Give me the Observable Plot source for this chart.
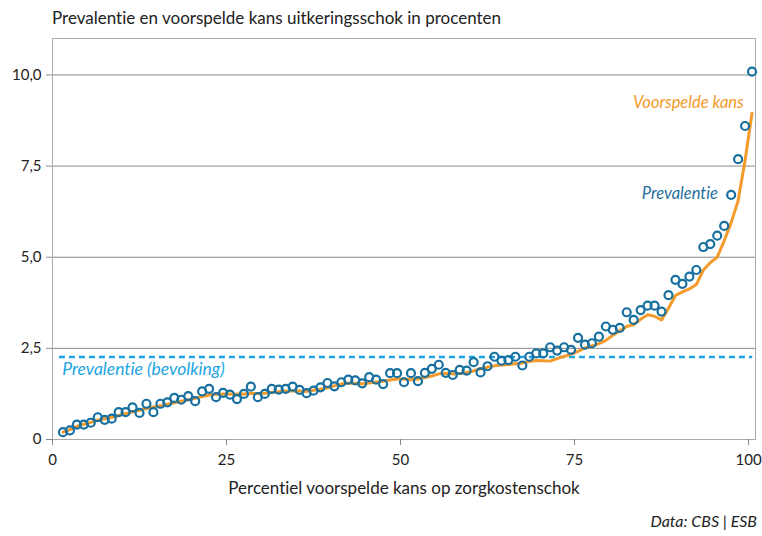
<!DOCTYPE html>
<html><head><meta charset="utf-8">
<script src="https://cdn.jsdelivr.net/npm/d3@7"></script>
<script src="https://cdn.jsdelivr.net/npm/@observablehq/plot@0.6"></script>
<style>
body{margin:0;background:#fff;font-family:Lato,"Open Sans",sans-serif;font-variant-ligatures:none;}
#title{height:22px;padding-top:8px;padding-left:52px;font-size:17px;line-height:20px;color:#222;white-space:nowrap;}
#caption{height:20px;padding-top:6px;text-align:right;padding-right:5px;font-size:16px;font-style:italic;line-height:20px;color:#222;}
#chart svg{display:block;}
#chart text{font-variant-ligatures:none;}
</style></head><body>
<div id="title">Prevalentie en voorspelde kans uitkeringsschok in procenten</div>
<div id="chart"></div>
<div id="caption">Data: CBS | ESB</div>
<script>
const percentiles = [1,2,3,4,5,6,7,8,9,10,11,12,13,14,15,16,17,18,19,20,21,22,23,24,25,26,27,28,29,30,31,32,33,34,35,36,37,38,39,40,41,42,43,44,45,46,47,48,49,50,51,52,53,54,55,56,57,58,59,60,61,62,63,64,65,66,67,68,69,70,71,72,73,74,75,76,77,78,79,80,81,82,83,84,85,86,87,88,89,90,91,92,93,94,95,96,97,98,99,100];
const prevalence = [
0.20,0.25,0.41,0.41,0.46,0.61,0.54,0.57,0.75,0.75,
0.88,0.73,0.98,0.75,0.98,1.02,1.14,1.09,1.19,1.05,
1.32,1.39,1.16,1.28,1.23,1.11,1.25,1.45,1.16,1.25,
1.39,1.37,1.39,1.45,1.36,1.27,1.34,1.43,1.55,1.46,
1.57,1.64,1.62,1.54,1.71,1.64,1.52,1.82,1.82,1.57,
1.82,1.60,1.83,1.94,2.05,1.83,1.77,1.91,1.89,2.12,
1.84,2.01,2.27,2.16,2.18,2.27,2.03,2.27,2.36,2.36,
2.53,2.44,2.53,2.46,2.79,2.60,2.64,2.82,3.10,3.01,
3.06,3.49,3.28,3.55,3.67,3.67,3.51,3.96,4.38,4.27,
4.47,4.65,5.28,5.36,5.59,5.86,6.71,7.69,8.60,10.09];
const predicted = [
0.20,0.27,0.36,0.42,0.47,0.53,0.57,0.61,0.66,0.71,
0.76,0.80,0.85,0.89,0.93,0.97,1.01,1.05,1.09,1.13,
1.18,1.22,1.24,1.25,1.25,1.24,1.25,1.26,1.26,1.27,
1.29,1.31,1.33,1.34,1.33,1.32,1.35,1.38,1.42,1.47,
1.52,1.55,1.54,1.53,1.55,1.58,1.60,1.63,1.66,1.66,
1.64,1.66,1.70,1.74,1.80,1.82,1.80,1.81,1.84,1.88,
1.94,1.98,2.02,2.04,2.06,2.08,2.10,2.14,2.17,2.16,
2.15,2.22,2.28,2.34,2.42,2.51,2.57,2.63,2.72,2.86,
2.98,3.10,3.15,3.30,3.42,3.38,3.28,3.60,3.95,4.05,
4.13,4.25,4.65,4.85,5.00,5.45,5.95,6.55,7.65,8.95];
const populationPrevalence = 2.26;
const xTicks = [0,25,50,75,100];
const yTicks = [0,2.5,5,7.5,10];

const data = percentiles.map((p,i)=>({percentile:p, prevalence:prevalence[i], predicted:predicted[i]}));
const xc = d => d.percentile + 0.5;
const fmt = d => d === 0 ? "0" : d.toFixed(1).replace(".", ",");
const font = "Lato, 'Open Sans', sans-serif";

const chart = Plot.plot({
  width: 762, height: 475,
  marginTop: 8, marginBottom: 66, marginLeft: 52, marginRight: 7,
  style: {fontFamily: font, fontSize: "15px", color: "#222", background: "white", overflow: "visible"},
  x: {domain: [0, 101]},
  y: {domain: [0, 11]},
  marks: [
    Plot.gridY({ticks: yTicks.filter(d => d > 0), stroke: "#8a8a8a", strokeOpacity: 1}),
    Plot.frame({stroke: "#aaa"}),
    Plot.axisY({ticks: yTicks, tickSize: 6, tickPadding: 5, tickFormat: fmt, stroke: "#888", label: null, fontSize: 15}),
    Plot.axisX({ticks: xTicks, tickSize: 6, tickPadding: 9, label: null, stroke: "#888", fontSize: 15}),
    Plot.ruleY([populationPrevalence], {x1: 1, x2: 100.6, stroke: "#1ca5df", strokeWidth: 2.5, strokeDasharray: "6,4"}),
    Plot.line(data, {x: xc, y: "predicted", stroke: "#f39a2b", strokeWidth: 3}),
    Plot.dot(data, {x: xc, y: "prevalence", r: 4, stroke: "#17709f", strokeWidth: 2.2, fill: "none"}),
    Plot.text(["Prevalentie (bevolking)"], {x: 1.4, y: 1.92, text: d => d, textAnchor: "start", fill: "#1ca5df", fontStyle: "italic", fontSize: 17.5}),
    Plot.text(["Voorspelde kans"], {x: 99.3, y: 9.23, text: d => d, textAnchor: "end", fill: "#f39a2b", fontStyle: "italic", fontSize: 16.5}),
    Plot.text(["Prevalentie"], {x: 95.6, y: 6.74, text: d => d, textAnchor: "end", fill: "#1f6e9c", fontStyle: "italic", fontSize: 16.5}),
    Plot.text(["Percentiel voorspelde kans op zorgkostenschok"], {frameAnchor: "bottom", dy: 54, text: d => d, fill: "#222", fontSize: 17})
  ]
});
document.getElementById("chart").appendChild(chart);
</script>
</body></html>
